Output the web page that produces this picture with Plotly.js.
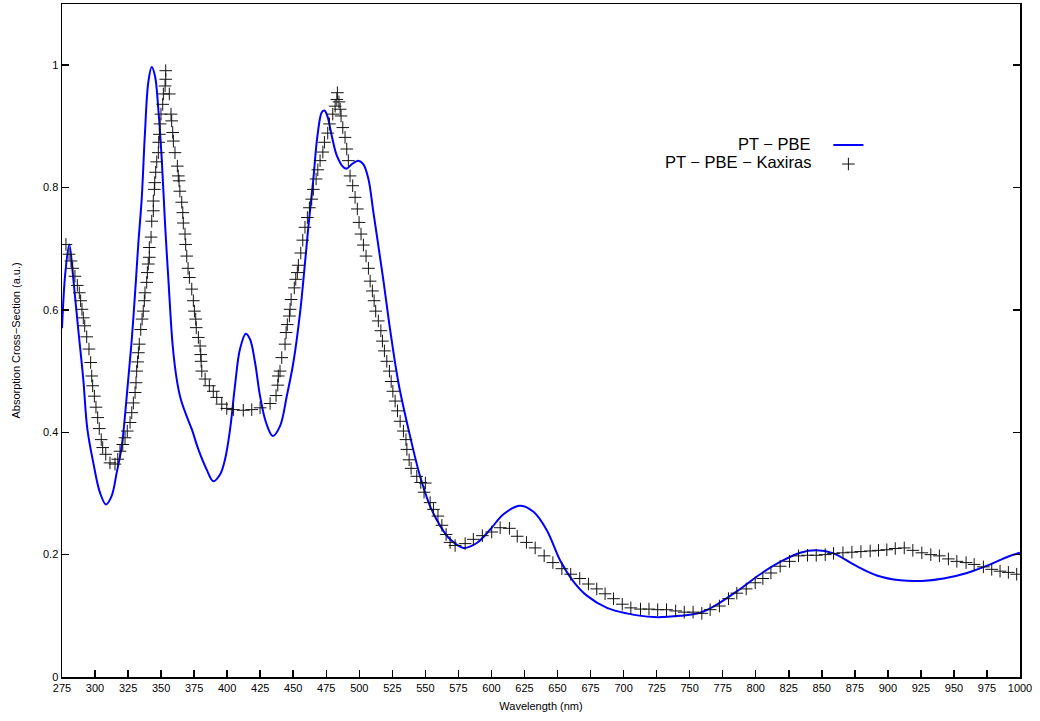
<!DOCTYPE html>
<html>
<head>
<meta charset="utf-8">
<script src="https://cdn.plot.ly/plotly-3.0.1.min.js"></script>
<style>html,body{margin:0;padding:0;background:#fff;}#chart{width:1040px;height:721px;}</style>
</head>
<body>
<div id="chart"></div>
<script>
// PT - PBE (solid blue line)
const pbeWavelength = [275,277.5,280.5,283.6,287.3,291.1,294.2,298.7,303.8,308.3,312.6,316.4,320.2,324.0,327.8,331.0,332.8,335.3,337.8,340.3,342.9,345.4,347.9,350.5,353.0,355.5,358.8,361.8,364.9,369.4,373.2,378.2,384.5,389.5,394.6,398.4,402.2,405.9,409.7,414.1,417.3,421.1,424.9,429.4,434.5,440.0,445.1,450.1,455.2,458.9,461.5,465.2,468.3,471.6,473.6,475.8,479.2,483.0,488.0,490.5,494.3,499.3,503.1,506.9,510.7,514.4,518.3,523.3,529.6,537.2,546.0,553.6,561.2,568.7,578.8,588.9,599.0,609.1,621.5,631.8,641.9,652.1,662.1,672.2,687.4,702.5,722.7,742.8,758.0,768.0,785.7,803.4,818.5,833.7,845.8,858.9,874.0,891.7,909.4,925.7,942.2,959.9,977.5,991.2,1000];
const pbeValue = [0.57,0.66,0.707,0.65,0.568,0.487,0.405,0.350,0.301,0.282,0.296,0.334,0.377,0.459,0.552,0.650,0.71,0.781,0.890,0.972,0.997,0.982,0.928,0.846,0.74,0.650,0.541,0.487,0.454,0.426,0.405,0.372,0.339,0.320,0.331,0.356,0.405,0.476,0.536,0.561,0.552,0.514,0.459,0.416,0.394,0.410,0.459,0.514,0.596,0.677,0.737,0.814,0.884,0.923,0.926,0.917,0.884,0.852,0.833,0.831,0.838,0.844,0.838,0.814,0.759,0.705,0.647,0.568,0.481,0.405,0.328,0.279,0.247,0.225,0.211,0.219,0.241,0.266,0.280,0.270,0.240,0.19,0.156,0.133,0.113,0.104,0.098,0.100,0.105,0.115,0.140,0.168,0.188,0.203,0.207,0.202,0.184,0.166,0.158,0.157,0.161,0.170,0.184,0.197,0.203];

// PT - PBE - Kaxiras (+ markers)
const kaxWavelength = [278.0,280.3,281.8,283.1,284.8,286.6,288.1,289.1,290.1,291.1,292.2,293.7,295.4,296.7,297.5,298.2,299.5,300.7,302.0,303.2,304.7,305.8,308.1,311.3,315.1,317.2,318.9,321.0,322.7,324.4,326.5,327.8,329.0,330.3,331.0,331.5,332.2,332.8,333.5,334.6,335.6,336.5,337.3,337.8,339.1,339.6,340.3,341.1,341.1,342.4,342.9,344.1,344.1,344.9,345.2,345.9,346.7,347.9,348.2,348.7,349.2,349.9,351.2,351.7,353.0,353.5,353.5,356.2,357.5,358.0,358.8,359.3,360.5,362.3,363.0,363.6,364.2,365.6,366.4,366.8,368.1,368.6,369.4,370.4,371.4,373.2,374.4,375.2,376.2,376.6,378.2,379.5,380.0,380.3,380.8,383.3,386.5,389.5,392.1,395.9,399.7,404.7,412.2,418.6,424.9,432.5,437.0,438.3,438.7,440.0,441.3,443.8,444.6,445.5,447.1,447.6,448.4,450.8,451.9,453.1,453.9,455.7,457.2,458.9,460.7,462.2,464.0,465.2,467.3,468.6,470.3,472.4,473.6,476.1,477.4,479.9,481.7,483.0,483.4,484.6,485.5,486.2,487.5,489.2,490.5,491.7,493.0,495.0,496.8,498.5,499.8,501.3,503.1,505.1,506.9,508.2,509.9,511.2,512.4,514.4,516.3,517.5,519.0,520.8,522.8,524.1,525.4,527.1,528.9,530.9,533.4,535.3,536.0,537.7,539.2,543.5,546.5,550.0,549.0,553.6,556.1,559.5,562.5,565.7,568.7,572.5,580.1,586.3,593.1,600.2,606.6,613.6,619.5,626.5,633.1,639.9,646.5,653.3,660.0,666.8,673.4,679.7,686.0,692.4,699.0,705.5,712.8,719.2,725.8,732.5,739.4,745.9,752.6,759.2,765.5,772.5,779.4,785.7,792.8,799.6,805.4,811.5,818.5,825.6,832.4,839.2,845.8,852.6,858.9,866.0,872.8,879.6,886.6,892.9,899.2,905.6,912.4,918.9,925.7,932.5,939.0,945.8,952.2,959.2,965.3,972.3,978.6,984.9,991.2,997.5];
const kaxValue = [0.707,0.691,0.680,0.668,0.655,0.640,0.628,0.615,0.601,0.587,0.574,0.556,0.536,0.514,0.492,0.476,0.459,0.441,0.424,0.406,0.388,0.375,0.364,0.350,0.348,0.356,0.369,0.380,0.391,0.402,0.416,0.432,0.448,0.465,0.481,0.500,0.515,0.530,0.544,0.568,0.585,0.598,0.615,0.628,0.645,0.661,0.675,0.686,0.702,0.719,0.745,0.762,0.778,0.797,0.808,0.825,0.842,0.857,0.874,0.887,0.904,0.920,0.936,0.953,0.966,0.977,0.991,0.953,0.920,0.909,0.890,0.876,0.857,0.835,0.819,0.811,0.794,0.776,0.759,0.742,0.724,0.707,0.688,0.668,0.653,0.634,0.615,0.598,0.585,0.571,0.555,0.541,0.527,0.516,0.500,0.487,0.476,0.467,0.457,0.446,0.439,0.437,0.436,0.437,0.440,0.447,0.460,0.477,0.492,0.500,0.522,0.544,0.563,0.576,0.590,0.601,0.617,0.636,0.650,0.661,0.673,0.693,0.714,0.735,0.751,0.767,0.781,0.797,0.814,0.829,0.844,0.858,0.874,0.889,0.904,0.920,0.933,0.944,0.955,0.940,0.928,0.917,0.898,0.882,0.863,0.844,0.819,0.803,0.784,0.765,0.743,0.724,0.706,0.688,0.668,0.647,0.631,0.615,0.598,0.582,0.566,0.549,0.533,0.516,0.500,0.483,0.467,0.451,0.435,0.418,0.402,0.388,0.372,0.355,0.341,0.328,0.318,0.317,0.302,0.285,0.274,0.263,0.248,0.233,0.220,0.215,0.218,0.225,0.231,0.237,0.244,0.243,0.230,0.220,0.211,0.198,0.187,0.177,0.168,0.161,0.152,0.144,0.136,0.128,0.119,0.113,0.111,0.111,0.110,0.110,0.108,0.106,0.106,0.104,0.110,0.116,0.128,0.137,0.144,0.154,0.161,0.170,0.181,0.189,0.198,0.199,0.199,0.200,0.202,0.203,0.204,0.205,0.206,0.207,0.208,0.210,0.211,0.207,0.203,0.200,0.198,0.193,0.189,0.187,0.184,0.180,0.176,0.173,0.171,0.168];

const seriesNames = ["PT \u2212 PBE", "PT \u2212 PBE \u2212 Kaxiras"];
const xTickVals = [275,300,325,350,375,400,425,450,475,500,525,550,575,600,625,650,675,700,725,750,775,800,825,850,875,900,925,950,975,1000];
const yTickVals = [0,0.2,0.4,0.6,0.8,1];
const yTickText = ["0","0.2","0.4","0.6","0.8","1"];
const xTitle = "Wavelength (nm)";
const yTitle = "Absorption Cross\u2212Section (a.u.)";

const font = "Liberation Sans, Arial, Helvetica, sans-serif";

const traces = [
  {x: pbeWavelength, y: pbeValue, type: "scatter", mode: "lines", name: "",
   line: {color: "#0000ff", width: 2, shape: "spline", smoothing: 1}},
  {x: kaxWavelength, y: kaxValue, type: "scatter", mode: "markers", name: "",
   marker: {symbol: "cross-thin", size: 9, color: "#111", line: {color: "#111", width: 1}}}
];

const layout = {
  width: 1040, height: 721,
  margin: {l: 62, r: 20, t: 4, b: 44},
  paper_bgcolor: "#fff", plot_bgcolor: "#fff",
  font: {family: font, size: 11, color: "#000"},
  showlegend: true,
  legend: {x: 0.8, y: 0.812, xanchor: "left", yanchor: "top", bgcolor: "rgba(0,0,0,0)",
           font: {family: font, size: 10}, tracegroupgap: 0, itemwidth: 30},
  xaxis: {range: [275, 1000], tickvals: xTickVals, ticks: "inside", ticklen: 7, tickwidth: 1.5,
          tickcolor: "#000", showline: true, linecolor: "#000", linewidth: 1.5, mirror: true,
          showgrid: false, zeroline: false, tickfont: {family: font, size: 11},
          title: {text: xTitle, font: {family: font, size: 11}, standoff: 9}},
  yaxis: {range: [0, 1.1], tickvals: yTickVals, ticktext: yTickText, ticks: "inside", ticklen: 7, tickwidth: 1.5,
          tickcolor: "#000", showline: true, linecolor: "#000", linewidth: 1.5, mirror: "ticks",
          showgrid: false, zeroline: false, tickfont: {family: font, size: 11}},
  annotations: [
    {xref: "paper", yref: "paper", x: 0.784, y: 0.7925, xanchor: "right", yanchor: "middle",
     text: seriesNames[0], showarrow: false, font: {family: font, size: 16.5, color: "#000"}},
    {xref: "paper", yref: "paper", x: 0.784, y: 0.7657, xanchor: "right", yanchor: "middle",
     text: seriesNames[1], showarrow: false, font: {family: font, size: 16.5, color: "#000"}},
    {xref: "paper", yref: "paper", x: -0.049, y: 0.5, xanchor: "center", yanchor: "middle",
     textangle: -90, text: yTitle, showarrow: false, font: {family: font, size: 11, color: "#000"}}
  ]
};

Plotly.newPlot("chart", traces, layout, {displayModeBar: false, staticPlot: true});
</script>
</body>
</html>
